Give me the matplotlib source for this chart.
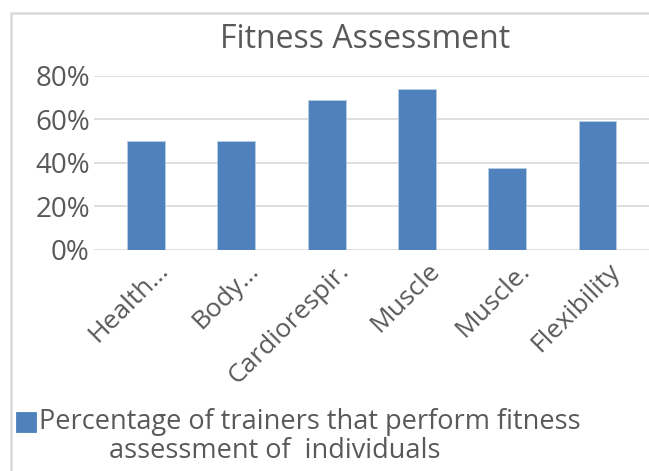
import matplotlib
matplotlib.use("Agg")
import matplotlib.pyplot as plt
from matplotlib.patches import Rectangle
from matplotlib.ticker import FuncFormatter
from matplotlib.transforms import ScaledTranslation
from matplotlib.legend_handler import HandlerPatch

categories = ["Health…", "Body…", "Cardiorespir.", "Muscle", "Muscle.", "Flexibility"]
values = [0.50, 0.50, 0.69, 0.74, 0.375, 0.59]
yticks = [0.0, 0.2, 0.4, 0.6, 0.8]
title = "Fitness Assessment"
series_label = "Percentage of trainers that perform fitness\n          assessment of  individuals"

W, H = 649, 471
plt.rcParams['font.family'] = ['Open Sans', 'DejaVu Sans']
fig = plt.figure(figsize=(W / 100, H / 100), dpi=100)
gray = "#595959"

# outer chart border (cropped at right/bottom)
fig.patches.append(Rectangle((11 / W, -0.1), 1.2, 1 - 13 / H + 0.1, transform=fig.transFigure,
                             fill=False, edgecolor="#d9d9d9", lw=1.8, zorder=0))

left, right, bottom, top = 94 / W, 1.0, 1 - 250 / H, 1 - 75.7 / H
ax = fig.add_axes([left, bottom, right - left, top - bottom])
x = list(range(len(categories)))
bars = ax.bar(x, values, width=0.42, color="#4f81bd", edgecolor="#b9cde5", linewidth=0.6,
              zorder=3, label=series_label)
ax.set_xlim(-0.576, 5.57)
ax.set_ylim(0, 0.8)
ax.set_yticks(yticks)
ax.yaxis.set_major_formatter(FuncFormatter(lambda v, p: f"{v*100:.0f}%"))
ax.grid(axis="y", color="#d9d9d9", lw=1.2, zorder=0)
for s in ax.spines.values():
    s.set_visible(False)
ax.tick_params(axis="y", length=0, pad=3, labelsize=20, labelcolor=gray)
ax.set_xticks(x)
ax.set_xticklabels(categories, rotation=45, rotation_mode="anchor", ha="right", va="center",
                   fontsize=19, color=gray)
ax.tick_params(axis="x", length=0, pad=0)
off = ScaledTranslation(19 / 100, -17 / 100, fig.dpi_scale_trans)
for lab in ax.get_xticklabels():
    lab.set_transform(lab.get_transform() + off)

fig.text(365 / W, 1 - 40 / H, title, ha="center", va="center", fontsize=23, color=gray)


def top_square(legend, orig_handle, xdescent, ydescent, width, height, fontsize):
    return Rectangle((-xdescent, -ydescent + 0.57 * fontsize), width, height)


handle = bars.patches[0]
leg = fig.legend(handles=[handle], labels=[series_label], loc="upper left",
                 bbox_to_anchor=(16 / W, 1 - 408 / H), frameon=False, fontsize=19.5,
                 handlelength=0.72, handleheight=0.72, handletextpad=0.12, labelcolor=gray,
                 borderpad=0, borderaxespad=0, labelspacing=0,
                 handler_map={handle: HandlerPatch(patch_func=top_square)})
for t in leg.get_texts():
    t.set_linespacing(1.05)
for p in leg.get_patches():
    p.set_edgecolor("#4f81bd")

fig.savefig("out.png", dpi=100)
